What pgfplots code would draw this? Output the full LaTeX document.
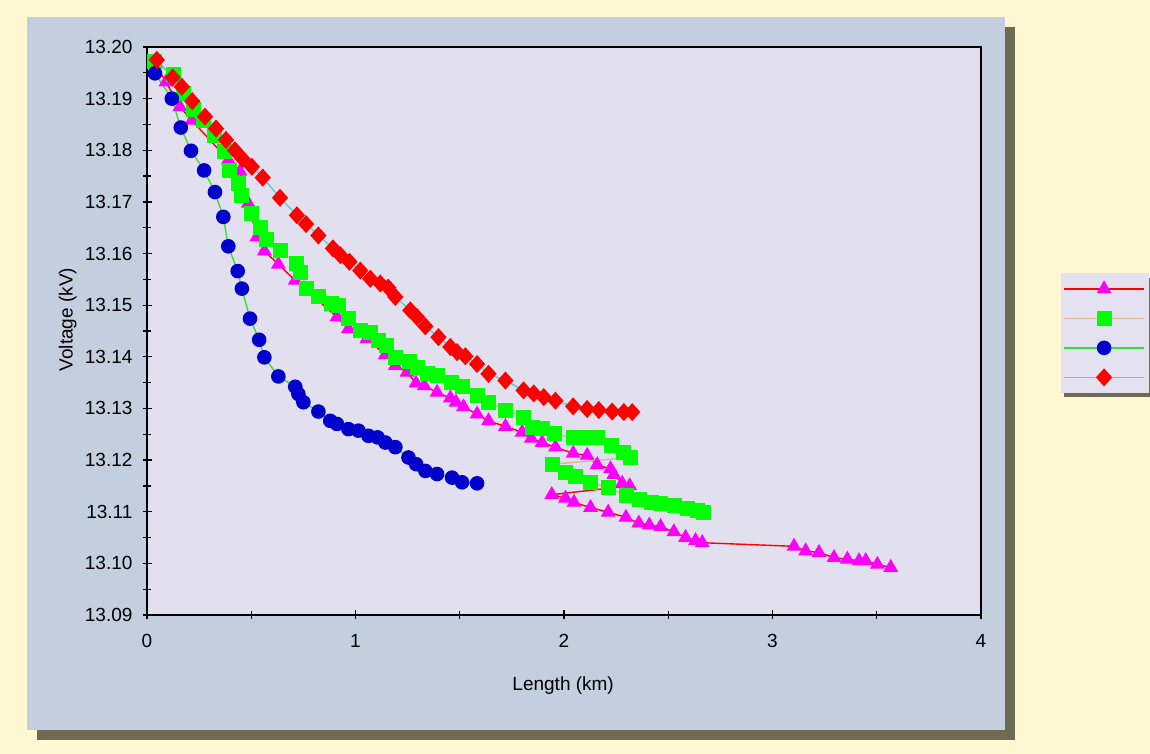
\documentclass[border=0pt]{standalone}
\usepackage{fontspec}
\setmainfont{Liberation Sans}
\usepackage{pgfplots}
\pgfplotsset{compat=1.18}

\definecolor{outerbg}{RGB}{255,248,210}
\definecolor{panelbg}{RGB}{195,206,222}
\definecolor{panelshadow}{RGB}{110,106,84}
\definecolor{plotbg}{RGB}{226,223,239}
\definecolor{legbg}{RGB}{228,226,240}
\definecolor{triline}{RGB}{255,0,0}
\definecolor{trimark}{RGB}{255,0,255}
\definecolor{sqline}{RGB}{222,184,135}
\definecolor{sqmark}{RGB}{0,255,0}
\definecolor{cirline}{RGB}{60,220,60}
\definecolor{cirmark}{RGB}{0,0,204}
\definecolor{diline}{RGB}{90,205,215}
\definecolor{dimark}{RGB}{255,0,0}

\begin{document}
\begin{tikzpicture}
% background, panel and shadows
\fill[outerbg] (0pt,0pt) rectangle (575pt,377pt);
\fill[panelshadow] (18.5pt,7pt) rectangle (507.5pt,363.5pt);
\fill[panelbg] (13.5pt,12pt) rectangle (502.5pt,368.5pt);
\fill[panelshadow] (532pt,178.5pt) rectangle (575pt,238pt);

\begin{axis}[
  at={(73.5pt,69.5pt)}, anchor=south west,
  scale only axis, width=417pt, height=284pt,
  xmin=0, xmax=4, ymin=13.09, ymax=13.20,
  xtick={0,1,2,3,4}, minor xtick={0.5,1.5,2.5,3.5},
  ytick={13.09,13.10,13.11,13.12,13.13,13.14,13.15,13.16,13.17,13.18,13.19,13.20},
  minor ytick={13.095,13.105,13.115,13.125,13.135,13.145,13.155,13.165,13.175,13.185,13.195},
  xtick pos=bottom, ytick pos=left,
  tick align=center, major tick length=4.5pt, minor tick length=4pt,
  every tick/.style={black, line width=0.6pt},
  axis line style={line width=0.9pt},
  axis background/.style={fill=plotbg},
  /pgf/number format/assume math mode=true,
  ticklabel style={font=\fontsize{9.5}{11}\selectfont},
  yticklabel style={xshift=-1.5pt, /pgf/number format/.cd, fixed, fixed zerofill, precision=2},
  xticklabel style={yshift=-4pt},
  label style={font=\fontsize{9.5}{11}\selectfont},
  xlabel={Length (km)},
  ylabel={Voltage (kV)},
  xlabel style={at={(axis description cs:0.499,-0.125)}, anchor=center},
  ylabel style={at={(axis description cs:-0.095,0.52)}, anchor=center},
  legend style={at={(1.0959,0.6026)}, anchor=north west, fill=legbg, draw=none,
    inner xsep=1pt, inner ysep=0.5pt, row sep=0pt, column sep=0pt,
    nodes={inner sep=0pt, minimum height=14.75pt}},
  legend image code/.code={\draw[mark repeat=2,mark phase=2] plot coordinates {(0pt,0pt)(20pt,0pt)(40pt,0pt)};},
]

% series 1: magenta triangles, red line
\addplot[triline, line width=0.7pt, mark=triangle*, mark size=3.6pt,
  mark options={solid, fill=trimark, draw=trimark}] coordinates {
(0.040,13.1967) (0.091,13.1932) (0.158,13.1884) (0.215,13.1858) (0.390,13.1781)
(0.446,13.1759) (0.486,13.1697) (0.527,13.1632) (0.563,13.1605) (0.630,13.1579)
(0.711,13.1548) (0.911,13.1477) (0.966,13.1454) (1.055,13.1435) (1.143,13.1404)
(1.191,13.1383) (1.247,13.1370) (1.290,13.1349) (1.330,13.1344) (1.391,13.1331)
(1.455,13.1320) (1.482,13.1312) (1.518,13.1303) (1.583,13.1289) (1.638,13.1276)
(1.719,13.1265) (1.799,13.1254) (1.843,13.1242) (1.895,13.1234) (1.959,13.1225)
(2.044,13.1213) (2.111,13.1209) (2.159,13.1191) (2.223,13.1183) (2.239,13.1172)
(2.279,13.1155) (2.315,13.1150)
(1.941,13.1133) (2.007,13.1126) (2.048,13.1118) (2.127,13.1108) (2.212,13.1099)
(2.297,13.1089) (2.359,13.1078) (2.409,13.1074) (2.463,13.1071) (2.527,13.1061)
(2.583,13.1050) (2.631,13.1044) (2.663,13.1040)
(3.103,13.1033) (3.159,13.1024) (3.223,13.1021) (3.295,13.1011) (3.359,13.1008)
(3.415,13.1005) (3.447,13.1005) (3.503,13.0998) (3.567,13.0992)
};
\addlegendentry{}

% series 2: green squares, tan line
\addplot[sqline, line width=0.7pt, mark=square*, mark size=3.4pt,
  mark options={solid, fill=sqmark, draw=sqmark}] coordinates {
(0.038,13.1971) (0.126,13.1946) (0.174,13.1910) (0.222,13.1878) (0.270,13.1858)
(0.326,13.1829) (0.374,13.1797) (0.398,13.1761) (0.438,13.1736) (0.455,13.1713)
(0.499,13.1677) (0.542,13.1651) (0.571,13.1628) (0.638,13.1605) (0.719,13.1580)
(0.738,13.1563) (0.767,13.1533) (0.822,13.1516) (0.887,13.1503) (0.918,13.1500)
(0.966,13.1474) (1.023,13.1451) (1.071,13.1448) (1.110,13.1432) (1.151,13.1422)
(1.191,13.1399) (1.258,13.1390) (1.295,13.1380) (1.343,13.1367) (1.395,13.1364)
(1.459,13.1351) (1.511,13.1342) (1.583,13.1325) (1.638,13.1312) (1.719,13.1296)
(1.806,13.1282) (1.851,13.1263) (1.895,13.1261) (1.954,13.1251) (2.045,13.1243)
(2.111,13.1243) (2.163,13.1243) (2.227,13.1228) (2.287,13.1215) (2.319,13.1205)
(1.943,13.1192) (2.007,13.1176) (2.055,13.1168) (2.128,13.1157) (2.215,13.1146)
(2.301,13.1131) (2.362,13.1123) (2.419,13.1118) (2.463,13.1115) (2.530,13.1112)
(2.591,13.1107) (2.639,13.1103) (2.668,13.1099)
};
\addlegendentry{}

% series 3: blue circles, green line
\addplot[cirline, line width=0.7pt, mark=*, mark size=3.3pt,
  mark options={solid, fill=cirmark, draw=cirmark}] coordinates {
(0.038,13.1949) (0.119,13.1900) (0.162,13.1844) (0.211,13.1799) (0.274,13.1761)
(0.326,13.1719) (0.366,13.1671) (0.390,13.1614) (0.435,13.1566) (0.455,13.1532)
(0.494,13.1474) (0.538,13.1433) (0.563,13.1399) (0.630,13.1362) (0.711,13.1342)
(0.726,13.1328) (0.750,13.1312) (0.822,13.1294) (0.879,13.1276) (0.911,13.1270)
(0.966,13.1260) (1.014,13.1257) (1.062,13.1247) (1.106,13.1244) (1.143,13.1234)
(1.191,13.1225) (1.254,13.1205) (1.291,13.1192) (1.335,13.1179) (1.391,13.1173)
(1.463,13.1166) (1.511,13.1157) (1.583,13.1155)
};
\addlegendentry{}

% series 4: red diamonds, cyan line
\addplot[diline, line width=0.7pt, mark=diamond*, mark size=4pt,
  mark options={solid, fill=dimark, draw=dimark, xscale=1.2}] coordinates {
(0.047,13.1975) (0.123,13.1941) (0.167,13.1923) (0.217,13.1895) (0.278,13.1865)
(0.331,13.1842) (0.379,13.1820) (0.422,13.1800) (0.459,13.1783) (0.503,13.1768)
(0.555,13.1747) (0.638,13.1708) (0.719,13.1674) (0.763,13.1657) (0.822,13.1635)
(0.892,13.1610) (0.927,13.1597) (0.971,13.1584) (1.023,13.1567) (1.071,13.1551)
(1.119,13.1542) (1.157,13.1534) (1.191,13.1516) (1.263,13.1490) (1.295,13.1477)
(1.335,13.1459) (1.398,13.1438) (1.455,13.1419) (1.487,13.1409) (1.527,13.1401)
(1.583,13.1386) (1.638,13.1367) (1.719,13.1354) (1.806,13.1335) (1.855,13.1329)
(1.903,13.1322) (1.959,13.1315) (2.044,13.1304) (2.111,13.1299) (2.167,13.1297)
(2.231,13.1294) (2.287,13.1293) (2.327,13.1293)
};
\addlegendentry{}

\end{axis}
\end{tikzpicture}
\end{document}
